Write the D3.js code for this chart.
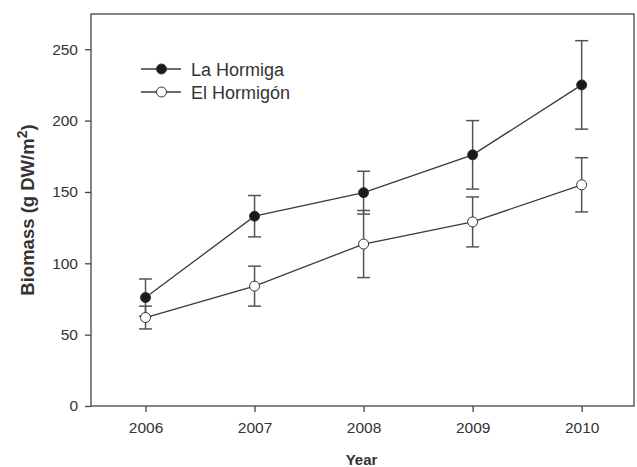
<!DOCTYPE html>
<html>
<head>
<meta charset="utf-8">
<script src="https://cdn.jsdelivr.net/npm/d3@7"></script>
<style>
  body { margin: 0; background: #fff; }
  text { font-family: "Liberation Sans", Arial, sans-serif; fill: #333; }
</style>
</head>
<body>
<div id="main"></div>
<script>
const ctx = {
    WIDTH: 637,
    HEIGHT: 467,
    left: 91, right: 634, top: 14, bottom: 406
};

const years = [2006, 2007, 2008, 2009, 2010];
const hormigaMean = [76, 133, 149.5, 176, 225];
const hormigaErr = [13, 14.5, 15, 24, 31];
const hormigonMean = [62, 84, 113.5, 129, 155];
const hormigonErr = [8, 14, 23.5, 17.5, 19];
const yTicks = [0, 50, 100, 150, 200, 250];
const seriesNames = ["La Hormiga", "El Hormigón"];

function makeSeries(means, errs) {
    return years.map((y, i) => ({ year: y, mean: means[i], err: errs[i] }));
}

function drawChart() {
    let svg = d3.select("#main").append("svg")
        .attr("width", ctx.WIDTH)
        .attr("height", ctx.HEIGHT);
    let g = svg.append("g").attr("id", "mainG");

    ctx.xScale = d3.scaleLinear().domain([2005.5, 2010.48]).range([ctx.left, ctx.right]);
    ctx.yScale = d3.scaleLinear().domain([0, 274.7]).range([ctx.bottom, ctx.top]);

    // frame
    g.append("rect")
        .attr("x", ctx.left).attr("y", ctx.top)
        .attr("width", ctx.right - ctx.left).attr("height", ctx.bottom - ctx.top)
        .attr("fill", "none").attr("stroke", "#444").attr("stroke-width", 1.3);

    let yAxis = g.append("g")
        .attr("transform", `translate(${ctx.left},0)`)
        .call(d3.axisLeft(ctx.yScale).tickValues(yTicks).tickSize(6).tickPadding(7));
    let xAxis = g.append("g")
        .attr("transform", `translate(0,${ctx.bottom})`)
        .call(d3.axisBottom(ctx.xScale).tickValues(years).tickFormat(d3.format("d")).tickSize(6).tickPadding(10));
    [yAxis, xAxis].forEach(a => {
        a.select(".domain").remove();
        a.selectAll(".tick line").attr("stroke", "#444").attr("stroke-width", 1.3);
        a.selectAll("text").style("font-size", "15.5px").attr("fill", "#333");
    });

    g.append("text")
        .attr("x", (ctx.left + ctx.right) / 2 - 1)
        .attr("y", 465)
        .style("text-anchor", "middle")
        .style("font-weight", "bold")
        .style("font-size", "15px")
        .text("Year");

    let yl = g.append("text")
        .attr("transform", `translate(34,${(ctx.top + ctx.bottom) / 2}) rotate(-90)`)
        .style("text-anchor", "middle")
        .style("font-weight", "bold")
        .style("font-size", "18.5px");
    yl.append("tspan").text("Biomass (g DW/m");
    yl.append("tspan").attr("dy", -7).style("font-size", "14px").text("2");
    yl.append("tspan").attr("dy", 7).text(")");

    let line = d3.line()
        .x(d => ctx.xScale(d.year))
        .y(d => ctx.yScale(d.mean));

    let sets = [
        { data: makeSeries(hormigonMean, hormigonErr), fill: "#fff" },
        { data: makeSeries(hormigaMean, hormigaErr), fill: "#1a1a1a" }
    ];

    sets.forEach(s => {
        g.append("path").datum(s.data)
            .attr("fill", "none").attr("stroke", "#3a3a3a").attr("stroke-width", 1.3)
            .attr("d", line);
    });

    sets.forEach(s => {
        let eb = g.append("g");
        s.data.forEach(d => {
            let x = ctx.xScale(d.year);
            let y1 = ctx.yScale(d.mean + d.err), y2 = ctx.yScale(d.mean - d.err);
            eb.append("line").attr("x1", x).attr("x2", x).attr("y1", y1).attr("y2", y2);
            eb.append("line").attr("x1", x - 6.5).attr("x2", x + 6.5).attr("y1", y1).attr("y2", y1);
            eb.append("line").attr("x1", x - 6.5).attr("x2", x + 6.5).attr("y1", y2).attr("y2", y2);
        });
        eb.selectAll("line").attr("stroke", "#555").attr("stroke-width", 1.5);
    });

    sets.forEach(s => {
        g.append("g").selectAll("circle").data(s.data).join("circle")
            .attr("cx", d => ctx.xScale(d.year))
            .attr("cy", d => ctx.yScale(d.mean))
            .attr("r", 5)
            .attr("fill", s.fill)
            .attr("stroke", "#333").attr("stroke-width", 1);
    });

    // legend
    let legFills = ["#1a1a1a", "#fff"];
    seriesNames.forEach((name, i) => {
        let ly = 69 + i * 23;
        let lg = g.append("g");
        lg.append("line").attr("x1", 141).attr("x2", 181).attr("y1", ly).attr("y2", ly)
            .attr("stroke", "#3a3a3a").attr("stroke-width", 1.3);
        lg.append("circle").attr("cx", 161.5).attr("cy", ly).attr("r", 5)
            .attr("fill", legFills[i]).attr("stroke", "#333").attr("stroke-width", 1);
        lg.append("text").attr("x", 191).attr("y", ly + 6.5)
            .style("font-size", "18px").text(name);
    });
}

drawChart();
</script>
</body>
</html>
